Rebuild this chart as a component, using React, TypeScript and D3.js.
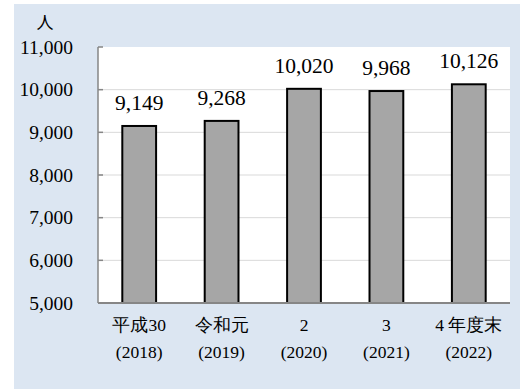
import React from "react";
import * as d3 from "d3";

const categories = ["平成30", "令和元", "2", "3", "4 年度末"];
const years = ["(2018)", "(2019)", "(2020)", "(2021)", "(2022)"];
const values = [9149, 9268, 10020, 9968, 10126];
const yTicks = [5000, 6000, 7000, 8000, 9000, 10000, 11000];

const W = 522;
const H = 389;
const plot = { left: 98, right: 510, top: 47, bottom: 303 };
const FONT = "Liberation Serif";

export default function App() {
  const x = d3
    .scaleBand<string>()
    .domain(categories)
    .range([plot.left, plot.right])
    .paddingInner(0.59)
    .paddingOuter(0.295);
  const y = d3.scaleLinear().domain([5000, 11000]).range([plot.bottom, plot.top]);
  const fmt = d3.format(",");
  const band = (plot.right - plot.left) / categories.length;

  return (
    <svg
      width={W}
      height={H}
      style={{ position: "absolute", left: 0, top: 0, display: "block" }}
    >
      <rect x={14} y={4} width={506} height={385} fill="#dce6f2" />
      <rect
        x={plot.left}
        y={plot.top}
        width={plot.right - plot.left}
        height={plot.bottom - plot.top}
        fill="#ffffff"
      />
      {yTicks
        .filter((t) => t > 5000 && t < 11000)
        .map((t) => (
          <line
            key={"g" + t}
            x1={plot.left}
            x2={plot.right}
            y1={y(t)}
            y2={y(t)}
            stroke="#d9d9d9"
            strokeWidth={1}
          />
        ))}
      {values.map((v, i) => {
        const c = categories[i];
        const bx = x(c)!;
        return (
          <g key={c}>
            <rect
              x={bx}
              y={y(v)}
              width={x.bandwidth()}
              height={plot.bottom - y(v)}
              fill="#a6a6a6"
              stroke="#000"
              strokeWidth={2}
            />
            <text
              x={bx + x.bandwidth() / 2}
              y={y(v) - 16}
              textAnchor="middle"
              fontFamily={FONT}
              fontSize={21.5}
              fill="#000"
            >
              {fmt(v)}
            </text>
          </g>
        );
      })}
      <line
        x1={plot.left}
        x2={plot.left}
        y1={plot.top}
        y2={plot.bottom}
        stroke="#868686"
        strokeWidth={1.5}
      />
      <line
        x1={plot.left}
        x2={plot.right}
        y1={plot.bottom}
        y2={plot.bottom}
        stroke="#868686"
        strokeWidth={2}
      />
      {yTicks.map((t) => (
        <g key={"t" + t}>
          <line
            x1={plot.left}
            x2={plot.left + 5}
            y1={y(t)}
            y2={y(t)}
            stroke="#868686"
            strokeWidth={1.5}
          />
          <text
            x={73}
            y={y(t)}
            dy="0.34em"
            textAnchor="end"
            fontFamily={FONT}
            fontSize={19.5}
            fill="#000"
          >
            {fmt(t)}
          </text>
        </g>
      ))}
      {categories.map((c, i) => {
        const cx = plot.left + band * (i + 0.5);
        return (
          <g key={"x" + c}>
            <text
              x={cx}
              y={331}
              textAnchor="middle"
              fontFamily={FONT}
              fontSize={17.5}
              fill="#000"
            >
              {c}
            </text>
            <text
              x={cx}
              y={358}
              textAnchor="middle"
              fontFamily={FONT}
              fontSize={17.5}
              fill="#000"
            >
              {years[i]}
            </text>
          </g>
        );
      })}
      <text
        x={45}
        y={29}
        textAnchor="middle"
        fontFamily="Noto Sans CJK JP"
        fontSize={17}
        fill="#000"
      >
        人
      </text>
    </svg>
  );
}
